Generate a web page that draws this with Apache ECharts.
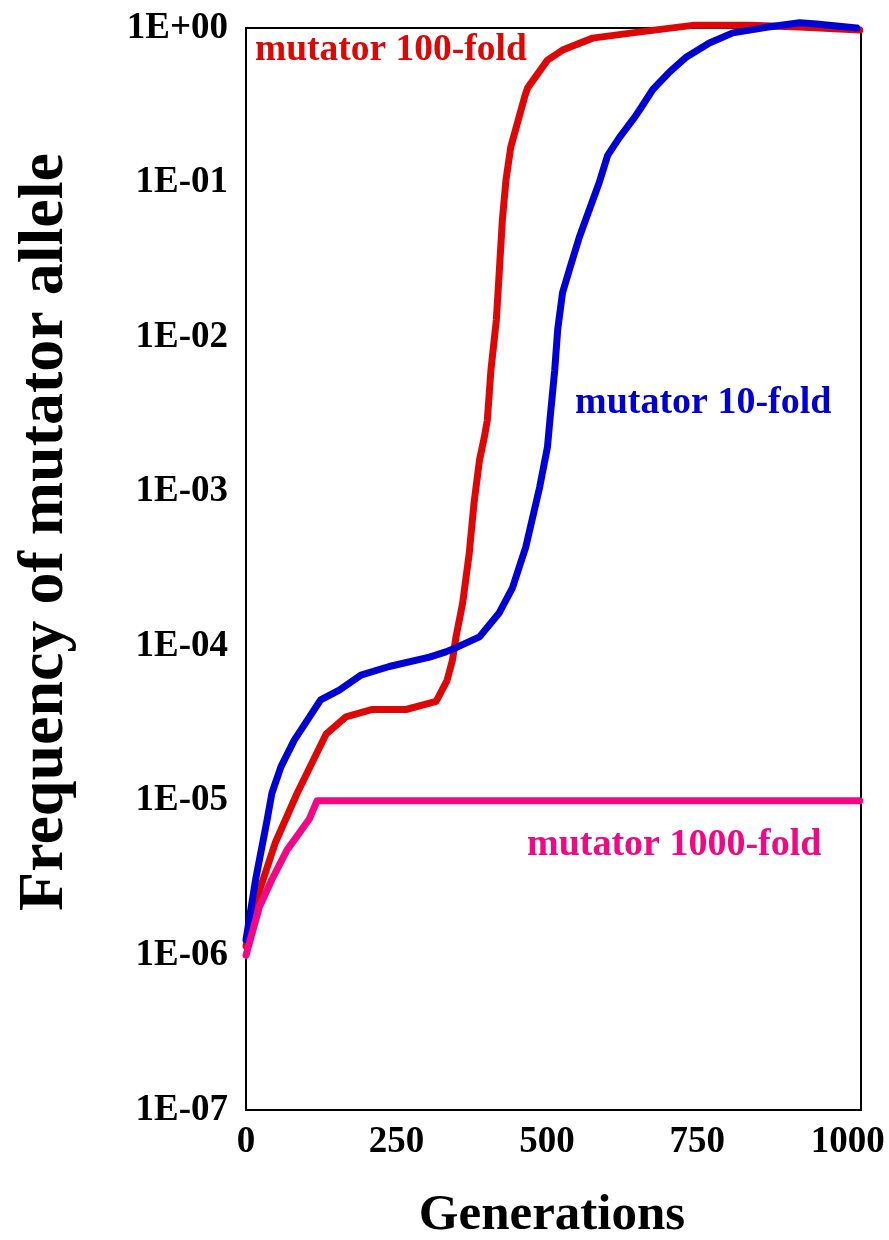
<!DOCTYPE html>
<html>
<head>
<meta charset="utf-8">
<script src="https://cdn.jsdelivr.net/npm/echarts@6/dist/echarts.min.js"></script>
<style>
  html, body { margin: 0; padding: 0; background: #fff; }
  #chart { width: 889px; height: 1240px; }
</style>
</head>
<body>
<div id="chart"></div>
<script>
// Generations sampled for each mutator strength
const gens100 = [0, 22, 49, 85, 133, 166, 210, 266, 316, 334, 343, 349, 360, 371, 379, 388, 396, 401, 407, 416, 421, 426, 432, 440, 463, 468, 501, 526, 576, 642, 742, 837, 920, 1020];
const freq100 = [1.15e-6, 2.6e-6, 5.4e-6, 1.12e-5, 2.7e-5, 3.5e-5, 3.9e-5, 3.9e-5, 4.4e-5, 6.0e-5, 8.1e-5, 1.15e-4, 1.9e-4, 4.0e-4, 8.5e-4, 1.6e-3, 2.25e-3, 2.9e-3, 6.1e-3, 1.29e-2, 2.7e-2, 5.7e-2, 0.104, 0.17, 0.358, 0.41, 0.62, 0.72, 0.86, 0.93, 1.04, 1.04, 1.015, 0.97];

const gens10 = [0, 16, 35, 43, 58, 80, 124, 155, 191, 238, 305, 332, 349, 388, 421, 443, 465, 488, 501, 505, 513, 518, 526, 537, 554, 587, 601, 621, 646, 654, 676, 704, 732, 770, 809, 865, 920, 948, 1015];
const freq10 = [1.26e-6, 3.1e-6, 7.5e-6, 1.12e-5, 1.66e-5, 2.46e-5, 4.5e-5, 5.2e-5, 6.5e-5, 7.4e-5, 8.5e-5, 9.2e-5, 9.8e-5, 1.15e-4, 1.65e-4, 2.4e-4, 4.4e-4, 1.07e-3, 1.95e-3, 2.9e-3, 6.1e-3, 1.12e-2, 1.94e-2, 2.7e-2, 4.45e-2, 0.1, 0.15, 0.197, 0.265, 0.295, 0.40, 0.52, 0.65, 0.80, 0.93, 1.01, 1.08, 1.06, 1.0];

const gens1000 = [0, 22, 43, 68, 105, 118, 1020];
const freq1000 = [1.0e-6, 2.05e-6, 3.1e-6, 4.8e-6, 7.6e-6, 1.0e-5, 1.0e-5];

const xTicks = [0, 250, 500, 750, 1000];
const seriesNames = ['mutator 100-fold', 'mutator 10-fold', 'mutator 1000-fold'];
const seriesColors = ['#DD0806', '#0000D4', '#F20884'];

const pairs = (xs, ys) => xs.map((x, i) => [x, ys[i]]);

const serif = '"Liberation Serif", "Times New Roman", Times, serif';

const chart = echarts.init(document.getElementById('chart'), null, { renderer: 'canvas' });

function lineSeries(name, data, color) {
  return {
    name: name,
    type: 'line',
    data: data,
    showSymbol: false,
    symbol: 'none',
    clip: false,
    smooth: false,
    animation: false,
    lineStyle: { color: color, width: 7, cap: 'round', join: 'round' }
  };
}

chart.setOption({
  backgroundColor: '#fff',
  animation: false,
  grid: {
    left: 246, right: 28, top: 28, bottom: 130,
    show: true, borderColor: '#000', borderWidth: 2, backgroundColor: 'transparent'
  },
  xAxis: {
    type: 'value',
    min: 0,
    max: 1022,
    interval: 250,
    axisLine: { show: true, lineStyle: { color: '#000', width: 2 } },
    axisTick: { show: false },
    splitLine: { show: false },
    axisLabel: {
      showMaxLabel: false,
      margin: 14,
      color: '#000',
      fontFamily: serif,
      fontWeight: 'bold',
      fontSize: 37,
      formatter: v => (xTicks.indexOf(v) >= 0 ? String(v) : '')
    }
  },
  yAxis: {
    type: 'log',
    logBase: 10,
    min: 1e-7,
    max: 1,
    interval: 1,
    axisLine: { show: true, lineStyle: { color: '#000', width: 2 } },
    axisTick: { show: false },
    splitLine: { show: false },
    axisLabel: {
      margin: 18,
      color: '#000',
      fontFamily: serif,
      fontWeight: 'bold',
      fontSize: 37,
      formatter: v => {
        const e = Math.round(Math.log10(v));
        const s = e >= 0 ? '+' : '-';
        const a = Math.abs(e);
        return '1E' + s + (a < 10 ? '0' : '') + a;
      }
    }
  },
  series: [
    lineSeries(seriesNames[0], pairs(gens100, freq100), seriesColors[0]),
    lineSeries(seriesNames[1], pairs(gens10, freq10), seriesColors[1]),
    lineSeries(seriesNames[2], pairs(gens1000, freq1000), seriesColors[2])
  ],
  graphic: [
    {
      type: 'text', x: 552, y: 1216,
      style: { text: 'Generations', fill: '#000', font: 'bold 51px ' + serif, textAlign: 'center', textVerticalAlign: 'middle' }
    },
    {
      type: 'text', x: 45, y: 532, rotation: Math.PI / 2,
      style: {
        text: 'Frequency of mutator allele', fill: '#000',
        font: 'bold 64px ' + serif, textAlign: 'center', textVerticalAlign: 'middle'
      }
    },
    {
      type: 'text', x: 255, y: 50,
      style: { text: seriesNames[0], fill: seriesColors[0], font: 'bold 37.5px ' + serif, textVerticalAlign: 'middle' }
    },
    {
      type: 'text', x: 575, y: 403,
      style: { text: seriesNames[1], fill: seriesColors[1], font: 'bold 38px ' + serif, textVerticalAlign: 'middle' }
    },
    {
      type: 'text', x: 527, y: 845,
      style: { text: seriesNames[2], fill: seriesColors[2], font: 'bold 38px ' + serif, textVerticalAlign: 'middle' }
    }
  ]
});
</script>
</body>
</html>
